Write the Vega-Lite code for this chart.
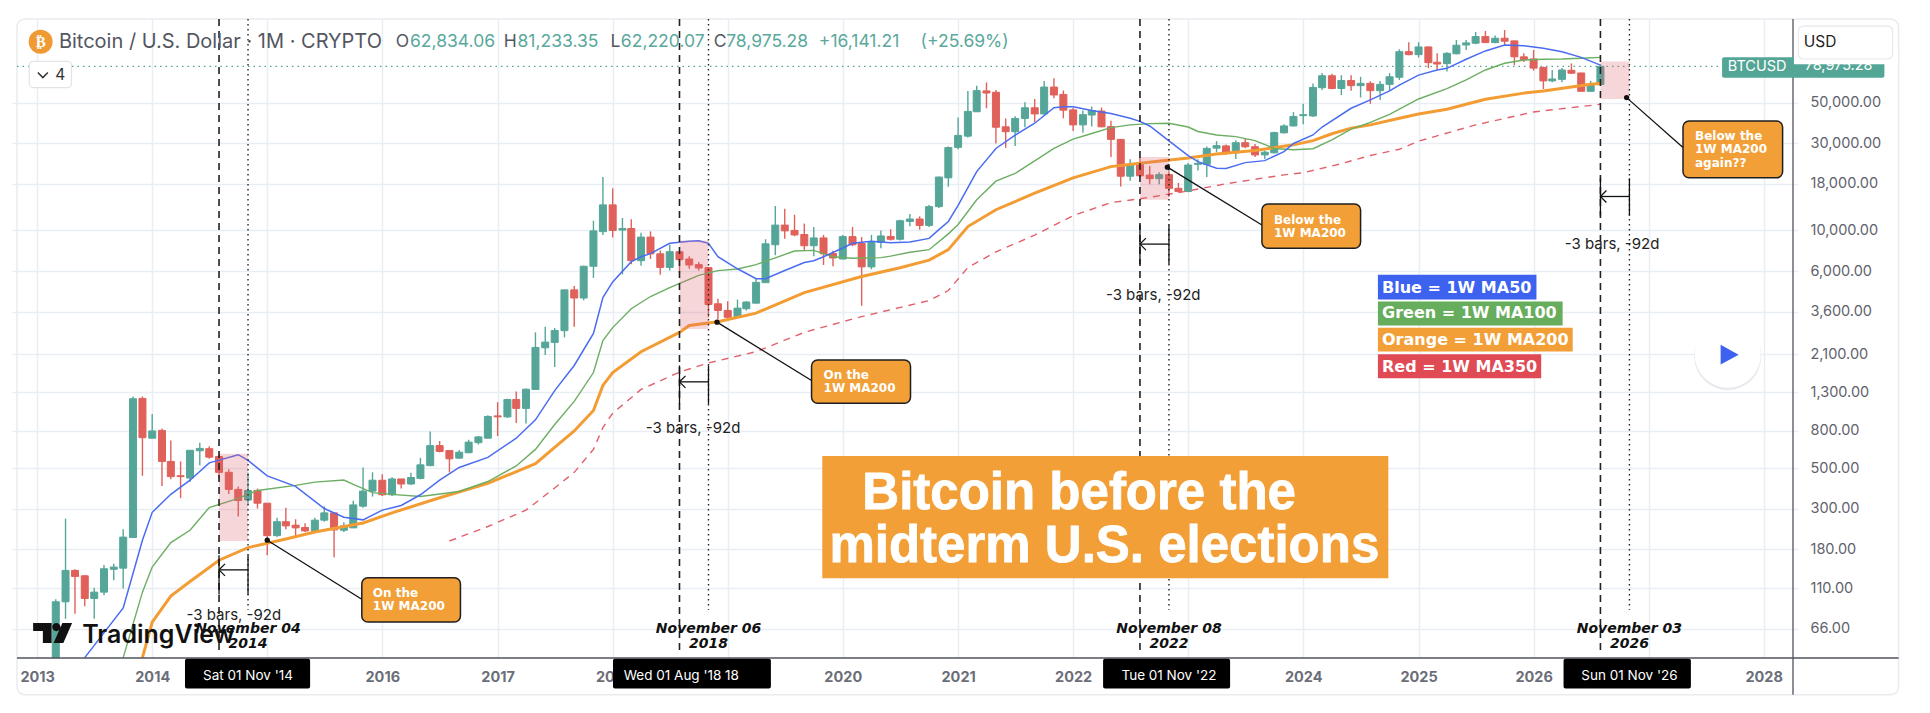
{
"$schema":"https://vega.github.io/schema/vega-lite/v6.json",
"width":1786,"height":639,"autosize":{"type":"none"},
"padding":{"left":12,"top":19,"right":132,"bottom":55},
"background":"white",
"config":{"view":{"stroke":null},"text":{"font":"Inter"}},
"encoding":{
"x":{"field":"d","type":"temporal","scale":{"type":"utc","domain":["2012-10-29","2028-04-03"],"nice":false},
"axis":{"title":null,"values":["2013-01-01","2014-01-01","2015-01-01","2016-01-01","2017-01-01","2018-01-01","2019-01-01","2020-01-01","2021-01-01","2022-01-01","2023-01-01","2024-01-01","2025-01-01","2026-01-01","2027-01-01","2028-01-01"],"format":"%Y","formatType":"utc","labelExpr":"indexof(['2015','2019','2023','2027'],datum.label)>=0?'':datum.label","domain":false,"ticks":false,"grid":true,"gridColor":"#e8eef3","gridWidth":1.5,"labelFont":"Inter","labelFontWeight":"bold","labelFontSize":14.5,"labelColor":"#6b6e78","labelPadding":12,"labelOverlap":false,"labelFlush":false,"labelBound":false}},
"y":{"field":"v","type":"quantitative","scale":{"type":"log","domain":[45.8,143500],"nice":false,"zero":false},
"axis":{"title":null,"orient":"right","values":[66,110,180,300,500,800,1300,2100,3600,6000,10000,18000,30000,50000],"format":",.2f","domain":false,"ticks":false,"grid":true,"gridColor":"#e8eef3","gridWidth":1.5,"labelFont":"Inter","labelFontSize":14.5,"labelColor":"#5f626d","labelPadding":12,"labelOverlap":false,"labelFlush":false,"labelBound":false}}
},
"layer":[
{"data":{"values":[{"d":"2012-10-29","d2":"2029-03-04","v":143500,"v2":28.8}],"format":{"parse":{"d2":"date"}}},
"mark":{"type":"rect","fillOpacity":0,"stroke":"#e9ebef","strokeWidth":1.5,"cornerRadius":8},
"encoding":{"x2":{"field":"d2"},"y2":{"field":"v2"}}},
{"data":{"values":[{"d":"2012-10-29","d2":"2027-08-22","v":78975}],"format":{"parse":{"d2":"date"}}},
"mark":{"type":"rule","stroke":"#53a596","strokeWidth":1.3,"strokeDash":[1.5,4]},
"encoding":{"x2":{"field":"d2"}}},
{"data":{"name":"candles","values":[
{"d":"2013-03-01","o":46,"h":96,"l":46,"c":93},
{"d":"2013-04-01","o":93,"h":265,"l":75,"c":138},
{"d":"2013-05-01","o":138,"h":140,"l":80,"c":128},
{"d":"2013-06-01","o":129,"h":130,"l":88,"c":97},
{"d":"2013-07-01","o":97,"h":111,"l":75,"c":105},
{"d":"2013-08-01","o":105,"h":148,"l":101,"c":141},
{"d":"2013-09-01","o":140,"h":150,"l":122,"c":144},
{"d":"2013-10-01","o":142,"h":232,"l":110,"c":210},
{"d":"2013-11-01","o":209,"h":1235,"l":209,"c":1200},
{"d":"2013-12-01","o":1205,"h":1235,"l":455,"c":735},
{"d":"2014-01-01","o":730,"h":990,"l":730,"c":800},
{"d":"2014-02-01","o":805,"h":825,"l":400,"c":545},
{"d":"2014-03-01","o":545,"h":710,"l":435,"c":450},
{"d":"2014-04-01","o":455,"h":545,"l":343,"c":450},
{"d":"2014-05-01","o":442,"h":630,"l":420,"c":627},
{"d":"2014-06-01","o":623,"h":690,"l":520,"c":642},
{"d":"2014-07-01","o":640,"h":660,"l":563,"c":575},
{"d":"2014-08-01","o":580,"h":597,"l":440,"c":475},
{"d":"2014-09-01","o":475,"h":493,"l":362,"c":383},
{"d":"2014-10-01","o":383,"h":397,"l":272,"c":333},
{"d":"2014-11-01","o":335,"h":473,"l":317,"c":378},
{"d":"2014-12-01","o":378,"h":387,"l":301,"c":322},
{"d":"2015-01-01","o":322,"h":323,"l":167,"c":214},
{"d":"2015-02-01","o":214,"h":268,"l":210,"c":255},
{"d":"2015-03-01","o":255,"h":304,"l":232,"c":242},
{"d":"2015-04-01","o":244,"h":263,"l":212,"c":236},
{"d":"2015-05-01","o":237,"h":250,"l":224,"c":227},
{"d":"2015-06-01","o":227,"h":268,"l":224,"c":260},
{"d":"2015-07-01","o":260,"h":310,"l":255,"c":285},
{"d":"2015-08-01","o":285,"h":285,"l":163,"c":230},
{"d":"2015-09-01","o":229,"h":253,"l":224,"c":242},
{"d":"2015-10-01","o":236,"h":332,"l":236,"c":315},
{"d":"2015-11-01","o":310,"h":505,"l":304,"c":375},
{"d":"2015-12-01","o":375,"h":475,"l":350,"c":430},
{"d":"2016-01-01","o":430,"h":463,"l":352,"c":358},
{"d":"2016-02-01","o":358,"h":447,"l":352,"c":437},
{"d":"2016-03-01","o":437,"h":437,"l":388,"c":410},
{"d":"2016-04-01","o":410,"h":473,"l":405,"c":445},
{"d":"2016-05-01","o":440,"h":570,"l":435,"c":522},
{"d":"2016-06-01","o":517,"h":795,"l":512,"c":665},
{"d":"2016-07-01","o":665,"h":705,"l":610,"c":618},
{"d":"2016-08-01","o":625,"h":625,"l":475,"c":563},
{"d":"2016-09-01","o":568,"h":630,"l":563,"c":612},
{"d":"2016-10-01","o":608,"h":716,"l":604,"c":695},
{"d":"2016-11-01","o":690,"h":750,"l":675,"c":742},
{"d":"2016-12-01","o":730,"h":975,"l":727,"c":960},
{"d":"2017-01-01","o":967,"h":1150,"l":750,"c":955},
{"d":"2017-02-01","o":955,"h":1200,"l":942,"c":1189},
{"d":"2017-03-01","o":1189,"h":1315,"l":885,"c":1063},
{"d":"2017-04-01","o":1063,"h":1365,"l":880,"c":1353},
{"d":"2017-05-01","o":1349,"h":2770,"l":1349,"c":2290},
{"d":"2017-06-01","o":2280,"h":2970,"l":2080,"c":2450},
{"d":"2017-07-01","o":2440,"h":2930,"l":1790,"c":2835},
{"d":"2017-08-01","o":2830,"h":4745,"l":2600,"c":4730},
{"d":"2017-09-01","o":4730,"h":4960,"l":2970,"c":4270},
{"d":"2017-10-01","o":4270,"h":6420,"l":4150,"c":6370},
{"d":"2017-11-01","o":6370,"h":11300,"l":5500,"c":9950},
{"d":"2017-12-01","o":9850,"h":19600,"l":9450,"c":13800},
{"d":"2018-01-01","o":13800,"h":17000,"l":9150,"c":10000},
{"d":"2018-02-01","o":10050,"h":11700,"l":5750,"c":10250},
{"d":"2018-03-01","o":10250,"h":11500,"l":6530,"c":6830},
{"d":"2018-04-01","o":6830,"h":9700,"l":6420,"c":9200},
{"d":"2018-05-01","o":9200,"h":9880,"l":6980,"c":7450},
{"d":"2018-06-01","o":7450,"h":7780,"l":5720,"c":6280},
{"d":"2018-07-01","o":6280,"h":8350,"l":6030,"c":7650},
{"d":"2018-08-01","o":7650,"h":7720,"l":5850,"c":6920},
{"d":"2018-09-01","o":6980,"h":7220,"l":6170,"c":6470},
{"d":"2018-10-01","o":6500,"h":6720,"l":6030,"c":6230},
{"d":"2018-11-01","o":6260,"h":6320,"l":3350,"c":3930},
{"d":"2018-12-01","o":3970,"h":4230,"l":3254,"c":3650},
{"d":"2019-01-01","o":3650,"h":4100,"l":3254,"c":3350},
{"d":"2019-02-01","o":3370,"h":4185,"l":3350,"c":3760},
{"d":"2019-03-01","o":3730,"h":4100,"l":3650,"c":4060},
{"d":"2019-04-01","o":4000,"h":5500,"l":4000,"c":5200},
{"d":"2019-05-01","o":5180,"h":8950,"l":5180,"c":8450},
{"d":"2019-06-01","o":8350,"h":13600,"l":7320,"c":10700},
{"d":"2019-07-01","o":10700,"h":13150,"l":9000,"c":9950},
{"d":"2019-08-01","o":10000,"h":12200,"l":9300,"c":9450},
{"d":"2019-09-01","o":9500,"h":10900,"l":7750,"c":8250},
{"d":"2019-10-01","o":8250,"h":10450,"l":7220,"c":9100},
{"d":"2019-11-01","o":9100,"h":9450,"l":6470,"c":7450},
{"d":"2019-12-01","o":7480,"h":7750,"l":6370,"c":7070},
{"d":"2020-01-01","o":6980,"h":9450,"l":6950,"c":9250},
{"d":"2020-02-01","o":9250,"h":10450,"l":8200,"c":8350},
{"d":"2020-03-01","o":8480,"h":9200,"l":3870,"c":6320},
{"d":"2020-04-01","o":6320,"h":9450,"l":6130,"c":8600},
{"d":"2020-05-01","o":8600,"h":10000,"l":8000,"c":9330},
{"d":"2020-06-01","o":9270,"h":10150,"l":8800,"c":8950},
{"d":"2020-07-01","o":8950,"h":11450,"l":8800,"c":11300},
{"d":"2020-08-01","o":11200,"h":12300,"l":10550,"c":11550},
{"d":"2020-09-01","o":11550,"h":11950,"l":10100,"c":10650},
{"d":"2020-10-01","o":10650,"h":13800,"l":10450,"c":13500},
{"d":"2020-11-01","o":13500,"h":19650,"l":13250,"c":19600},
{"d":"2020-12-01","o":19400,"h":28800,"l":17350,"c":28400},
{"d":"2021-01-01","o":28500,"h":41500,"l":27800,"c":33100},
{"d":"2021-02-01","o":32800,"h":58000,"l":32200,"c":44800},
{"d":"2021-03-01","o":44600,"h":61900,"l":44600,"c":58200},
{"d":"2021-04-01","o":58000,"h":64500,"l":46600,"c":56500},
{"d":"2021-05-01","o":57000,"h":58740,"l":29900,"c":36700},
{"d":"2021-06-01","o":36900,"h":41000,"l":28300,"c":34700},
{"d":"2021-07-01","o":34700,"h":42200,"l":29000,"c":41000},
{"d":"2021-08-01","o":41000,"h":50300,"l":36700,"c":46900},
{"d":"2021-09-01","o":46900,"h":52400,"l":39200,"c":43400},
{"d":"2021-10-01","o":43400,"h":65800,"l":43000,"c":60900},
{"d":"2021-11-01","o":60900,"h":68000,"l":52800,"c":55100},
{"d":"2021-12-01","o":55500,"h":58300,"l":41100,"c":45500},
{"d":"2022-01-01","o":45670,"h":46800,"l":35000,"c":37800},
{"d":"2022-02-01","o":37800,"h":45300,"l":34200,"c":43000},
{"d":"2022-03-01","o":42800,"h":47700,"l":37000,"c":45300},
{"d":"2022-04-01","o":45000,"h":47000,"l":36700,"c":36900},
{"d":"2022-05-01","o":37000,"h":39800,"l":25200,"c":31500},
{"d":"2022-06-01","o":31500,"h":31600,"l":17400,"c":19800},
{"d":"2022-07-01","o":19800,"h":24500,"l":18700,"c":23000},
{"d":"2022-08-01","o":23000,"h":24900,"l":19400,"c":19900},
{"d":"2022-09-01","o":20100,"h":22500,"l":17900,"c":19200},
{"d":"2022-10-01","o":19200,"h":20800,"l":17900,"c":20200},
{"d":"2022-11-01","o":20200,"h":21100,"l":15300,"c":17000},
{"d":"2022-12-01","o":17000,"h":18200,"l":16150,"c":16350},
{"d":"2023-01-01","o":16350,"h":23400,"l":16200,"c":22800},
{"d":"2023-02-01","o":23000,"h":24500,"l":21300,"c":23300},
{"d":"2023-03-01","o":23000,"h":28800,"l":19600,"c":28100},
{"d":"2023-04-01","o":28200,"h":30800,"l":26800,"c":29100},
{"d":"2023-05-01","o":29000,"h":29500,"l":25900,"c":26600},
{"d":"2023-06-01","o":26600,"h":31100,"l":24600,"c":30200},
{"d":"2023-07-01","o":30200,"h":31600,"l":28200,"c":28700},
{"d":"2023-08-01","o":28700,"h":29700,"l":25200,"c":25900},
{"d":"2023-09-01","o":25900,"h":27300,"l":24600,"c":26800},
{"d":"2023-10-01","o":26600,"h":34700,"l":26400,"c":34300},
{"d":"2023-11-01","o":34200,"h":38100,"l":33900,"c":37300},
{"d":"2023-12-01","o":37300,"h":44400,"l":37000,"c":42000},
{"d":"2024-01-01","o":42500,"h":49300,"l":38100,"c":43000},
{"d":"2024-02-01","o":42300,"h":63600,"l":41700,"c":60600},
{"d":"2024-03-01","o":60400,"h":72600,"l":58700,"c":70200},
{"d":"2024-04-01","o":70200,"h":71900,"l":59200,"c":59800},
{"d":"2024-05-01","o":59800,"h":70700,"l":55000,"c":66100},
{"d":"2024-06-01","o":66100,"h":70700,"l":58200,"c":62000},
{"d":"2024-07-01","o":62000,"h":69300,"l":53400,"c":63800},
{"d":"2024-08-01","o":63800,"h":65500,"l":49300,"c":58200},
{"d":"2024-09-01","o":58200,"h":65800,"l":51800,"c":63000},
{"d":"2024-10-01","o":63000,"h":72600,"l":58200,"c":69300},
{"d":"2024-11-01","o":68900,"h":98000,"l":66600,"c":95100},
{"d":"2024-12-01","o":95100,"h":107100,"l":90900,"c":91600},
{"d":"2025-01-01","o":91600,"h":107100,"l":88300,"c":100900},
{"d":"2025-02-01","o":100900,"h":101300,"l":77300,"c":82800},
{"d":"2025-03-01","o":83200,"h":93100,"l":75500,"c":81400},
{"d":"2025-04-01","o":81800,"h":94300,"l":74100,"c":93100},
{"d":"2025-05-01","o":92600,"h":110200,"l":91900,"c":103100},
{"d":"2025-06-01","o":103500,"h":110200,"l":97150,"c":106200},
{"d":"2025-07-01","o":105800,"h":121900,"l":104400,"c":115000},
{"d":"2025-08-01","o":115000,"h":123400,"l":106200,"c":106600},
{"d":"2025-09-01","o":106600,"h":116400,"l":105800,"c":112600},
{"d":"2025-10-01","o":112600,"h":124950,"l":102600,"c":108500},
{"d":"2025-11-01","o":108900,"h":109300,"l":80300,"c":89100},
{"d":"2025-12-01","o":89100,"h":93100,"l":83600,"c":86000},
{"d":"2026-01-01","o":86800,"h":97150,"l":74800,"c":77300},
{"d":"2026-02-01","o":78000,"h":78700,"l":59400,"c":65800},
{"d":"2026-03-01","o":65800,"h":75500,"l":64700,"c":67400},
{"d":"2026-04-01","o":67100,"h":77300,"l":64700,"c":75500},
{"d":"2026-05-01","o":75200,"h":82000,"l":71900,"c":72500},
{"d":"2026-06-01","o":72700,"h":73000,"l":57700,"c":57700},
{"d":"2026-07-01","o":57700,"h":65800,"l":57700,"c":62700},
{"d":"2026-08-01","o":62834,"h":81233,"l":62220,"c":78975}
]},
"mark":{"type":"rule","strokeWidth":1.4},
"encoding":{"y":{"field":"l","type":"quantitative","axis":{"title":null}},"y2":{"field":"h"},
"color":{"condition":{"test":"datum.c>=datum.o","value":"#55a699"},"value":"#e0605a"}}},
{"data":{"name":"candles"},
"mark":{"type":"bar","width":7,"strokeWidth":1},
"encoding":{"y":{"field":"o","type":"quantitative","axis":{"title":null}},"y2":{"field":"c"},
"color":{"condition":{"test":"datum.c>=datum.o","value":"#55a699"},"value":"#e0605a"},
"stroke":{"condition":{"test":"datum.c>=datum.o","value":"#55a699"},"value":"#e0605a"}}},
{"data":{"values":[
{"d":"2016-08-01","v":200},{"d":"2016-12-01","v":240},{"d":"2017-04-01","v":295},{"d":"2017-07-01","v":390},{"d":"2017-09-01","v":475},{"d":"2017-11-01","v":634},{"d":"2017-12-01","v":835},{"d":"2018-01-01","v":1000},{"d":"2018-04-01","v":1349},{"d":"2018-08-01","v":1680},{"d":"2018-11-01","v":1885},{"d":"2019-04-01","v":2170},{"d":"2019-09-01","v":2770},{"d":"2020-03-01","v":3380},{"d":"2020-10-01","v":4135},{"d":"2020-12-01","v":4690},{"d":"2021-02-01","v":6270},{"d":"2021-05-01","v":7640},{"d":"2021-09-01","v":9430},{"d":"2022-01-01","v":12050},{"d":"2022-05-01","v":14200},{"d":"2022-08-01","v":14900},{"d":"2022-12-01","v":16100},{"d":"2023-05-01","v":18000},{"d":"2023-11-01","v":20150},{"d":"2024-01-01","v":20700},{"d":"2024-05-01","v":23200},{"d":"2024-08-01","v":25700},{"d":"2024-11-01","v":27800},{"d":"2025-01-01","v":30800},{"d":"2025-07-01","v":37800},{"d":"2026-01-01","v":44500},{"d":"2026-08-01","v":49000}]},
"mark":{"type":"line","stroke":"#e2606c","strokeWidth":1.4,"strokeDash":[7,6]}},
{"data":{"values":[
{"d":"2013-12-01","v":46},{"d":"2014-01-01","v":72},{"d":"2014-03-01","v":100},{"d":"2014-05-01","v":120},{"d":"2014-08-01","v":157},{"d":"2014-11-01","v":184},{"d":"2015-03-01","v":205},{"d":"2015-06-01","v":224},{"d":"2015-11-01","v":251},{"d":"2016-02-01","v":285},{"d":"2016-07-01","v":345},{"d":"2016-12-01","v":413},{"d":"2017-05-01","v":530},{"d":"2017-07-01","v":650},{"d":"2017-09-01","v":800},{"d":"2017-11-01","v":1035},{"d":"2017-12-01","v":1420},{"d":"2018-01-01","v":1670},{"d":"2018-04-01","v":2170},{"d":"2018-08-01","v":2770},{"d":"2018-09-01","v":3020},{"d":"2018-12-01","v":3170},{"d":"2019-04-01","v":3530},{"d":"2019-09-01","v":4570},{"d":"2020-03-01","v":5600},{"d":"2020-07-01","v":6250},{"d":"2020-10-01","v":6880},{"d":"2020-12-01","v":7850},{"d":"2021-02-01","v":10500},{"d":"2021-05-01","v":12980},{"d":"2021-09-01","v":16000},{"d":"2022-01-01","v":19400},{"d":"2022-05-01","v":22350},{"d":"2022-08-01","v":23300},{"d":"2023-01-01","v":24900},{"d":"2023-04-01","v":26200},{"d":"2023-08-01","v":27400},{"d":"2023-12-01","v":29400},{"d":"2024-02-01","v":31000},{"d":"2024-04-01","v":33800},{"d":"2024-06-01","v":36300},{"d":"2024-08-01","v":37800},{"d":"2024-11-01","v":41100},{"d":"2025-01-01","v":43400},{"d":"2025-04-01","v":46000},{"d":"2025-08-01","v":52200},{"d":"2025-12-01","v":56400},{"d":"2026-02-01","v":58000},{"d":"2026-05-01","v":61000},{"d":"2026-07-01","v":63100},{"d":"2026-08-01","v":63700}]},
"mark":{"type":"line","stroke":"#f39c33","strokeWidth":3}},
{"data":{"values":[
{"d":"2013-10-01","v":46},{"d":"2013-12-01","v":105},{"d":"2014-01-01","v":144},{"d":"2014-03-01","v":196},{"d":"2014-05-01","v":229},{"d":"2014-07-01","v":305},{"d":"2014-10-01","v":342},{"d":"2014-12-01","v":378},{"d":"2015-04-01","v":403},{"d":"2015-06-01","v":420},{"d":"2015-09-01","v":431},{"d":"2015-10-01","v":408},{"d":"2015-12-01","v":368},{"d":"2016-02-01","v":360},{"d":"2016-05-01","v":350},{"d":"2016-09-01","v":373},{"d":"2016-12-01","v":423},{"d":"2017-03-01","v":515},{"d":"2017-05-01","v":634},{"d":"2017-07-01","v":868},{"d":"2017-09-01","v":1160},{"d":"2017-11-01","v":1670},{"d":"2017-12-01","v":2495},{"d":"2018-01-01","v":2940},{"d":"2018-03-01","v":3730},{"d":"2018-05-01","v":4350},{"d":"2018-07-01","v":4860},{"d":"2018-10-01","v":5680},{"d":"2018-12-01","v":6030},{"d":"2019-02-01","v":6150},{"d":"2019-04-01","v":6500},{"d":"2019-06-01","v":7080},{"d":"2019-08-01","v":7720},{"d":"2019-10-01","v":7780},{"d":"2019-12-01","v":7180},{"d":"2020-02-01","v":7050},{"d":"2020-05-01","v":7100},{"d":"2020-06-01","v":7240},{"d":"2020-08-01","v":7600},{"d":"2020-10-01","v":7850},{"d":"2020-12-01","v":9580},{"d":"2021-01-01","v":10780},{"d":"2021-03-01","v":14730},{"d":"2021-05-01","v":18600},{"d":"2021-07-01","v":20500},{"d":"2021-09-01","v":24000},{"d":"2021-11-01","v":28100},{"d":"2022-01-01","v":31600},{"d":"2022-03-01","v":33900},{"d":"2022-05-01","v":36500},{"d":"2022-07-01","v":37800},{"d":"2022-09-01","v":38400},{"d":"2022-11-01","v":38600},{"d":"2023-01-01","v":36800},{"d":"2023-02-01","v":34800},{"d":"2023-04-01","v":33300},{"d":"2023-06-01","v":32600},{"d":"2023-08-01","v":31000},{"d":"2023-10-01","v":28100},{"d":"2023-12-01","v":27620},{"d":"2024-02-01","v":28000},{"d":"2024-04-01","v":31320},{"d":"2024-06-01","v":35800},{"d":"2024-08-01","v":39000},{"d":"2024-10-01","v":43200},{"d":"2024-11-01","v":46100},{"d":"2025-01-01","v":52400},{"d":"2025-04-01","v":59700},{"d":"2025-06-01","v":66600},{"d":"2025-08-01","v":75500},{"d":"2025-10-01","v":82200},{"d":"2025-12-01","v":85670},{"d":"2026-02-01","v":86400},{"d":"2026-04-01","v":86700},{"d":"2026-06-01","v":87500},{"d":"2026-08-01","v":88500}]},
"mark":{"type":"line","stroke":"#6cae62","strokeWidth":1.4}},
{"data":{"values":[
{"d":"2013-06-01","v":46},{"d":"2013-10-01","v":86},{"d":"2013-12-01","v":202},{"d":"2014-01-01","v":287},{"d":"2014-03-01","v":360},{"d":"2014-05-01","v":430},{"d":"2014-07-01","v":535},{"d":"2014-10-01","v":593},{"d":"2014-11-01","v":552},{"d":"2015-01-01","v":454},{"d":"2015-04-01","v":398},{"d":"2015-07-01","v":301},{"d":"2015-09-01","v":270},{"d":"2015-11-01","v":261},{"d":"2016-01-01","v":295},{"d":"2016-03-01","v":313},{"d":"2016-05-01","v":358},{"d":"2016-07-01","v":430},{"d":"2016-09-01","v":505},{"d":"2016-12-01","v":573},{"d":"2017-03-01","v":730},{"d":"2017-05-01","v":920},{"d":"2017-07-01","v":1330},{"d":"2017-09-01","v":1825},{"d":"2017-11-01","v":2730},{"d":"2017-12-01","v":4290},{"d":"2018-01-01","v":5230},{"d":"2018-03-01","v":6750},{"d":"2018-04-01","v":7180},{"d":"2018-05-01","v":7470},{"d":"2018-07-01","v":8500},{"d":"2018-09-01","v":8730},{"d":"2018-10-01","v":8790},{"d":"2018-11-01","v":8500},{"d":"2018-12-01","v":7180},{"d":"2019-02-01","v":6170},{"d":"2019-04-01","v":5450},{"d":"2019-05-01","v":5450},{"d":"2019-07-01","v":6040},{"d":"2019-09-01","v":6680},{"d":"2019-10-01","v":6830},{"d":"2019-11-01","v":7180},{"d":"2020-01-01","v":8020},{"d":"2020-02-01","v":8500},{"d":"2020-04-01","v":8720},{"d":"2020-06-01","v":8570},{"d":"2020-08-01","v":8650},{"d":"2020-10-01","v":9050},{"d":"2020-11-01","v":10100},{"d":"2020-12-01","v":11200},{"d":"2021-01-01","v":13700},{"d":"2021-03-01","v":21000},{"d":"2021-05-01","v":28100},{"d":"2021-07-01","v":33200},{"d":"2021-09-01","v":38600},{"d":"2021-11-01","v":46900},{"d":"2021-12-01","v":47500},{"d":"2022-01-01","v":47500},{"d":"2022-03-01","v":45300},{"d":"2022-05-01","v":43600},{"d":"2022-07-01","v":41100},{"d":"2022-08-01","v":39500},{"d":"2022-09-01","v":37300},{"d":"2022-11-01","v":30900},{"d":"2023-01-01","v":25700},{"d":"2023-02-01","v":23800},{"d":"2023-04-01","v":21900},{"d":"2023-05-01","v":21800},{"d":"2023-07-01","v":23500},{"d":"2023-09-01","v":24100},{"d":"2023-11-01","v":27000},{"d":"2023-12-01","v":29900},{"d":"2024-02-01","v":33300},{"d":"2024-03-01","v":36800},{"d":"2024-06-01","v":46600},{"d":"2024-08-01","v":51800},{"d":"2024-10-01","v":58000},{"d":"2024-11-01","v":62400},{"d":"2025-01-01","v":70800},{"d":"2025-03-01","v":75500},{"d":"2025-04-01","v":77100},{"d":"2025-06-01","v":86400},{"d":"2025-08-01","v":96000},{"d":"2025-10-01","v":103400},{"d":"2025-12-01","v":102400},{"d":"2026-02-01","v":99200},{"d":"2026-04-01","v":95100},{"d":"2026-06-01","v":88500},{"d":"2026-08-01","v":80300}]},
"mark":{"type":"line","stroke":"#4a6cf0","strokeWidth":1.5}},
{"data":{"values":[
{"d":"2014-08-01","d2":"2014-11-01","v":600,"v2":200},
{"d":"2018-08-01","d2":"2018-11-01","v":8800,"v2":2890},
{"d":"2022-08-01","d2":"2022-11-01","v":25200,"v2":14730},
{"d":"2026-08-01","d2":"2026-11-01","v":84100,"v2":52400}],"format":{"parse":{"d2":"date"}}},
"mark":{"type":"rect","fill":"#e0606e","fillOpacity":0.26},
"encoding":{"x2":{"field":"d2"},"y2":{"field":"v2"}}},
{"data":{"values":[{"d":"2014-08-01","v":143500,"v2":49},{"d":"2018-08-01","v":143500,"v2":49},{"d":"2022-08-01","v":143500,"v2":49},{"d":"2026-08-01","v":143500,"v2":49}]},
"mark":{"type":"rule","stroke":"#222","strokeWidth":1.6,"strokeDash":[7,5]},
"encoding":{"y2":{"field":"v2"}}},
{"data":{"values":[{"d":"2014-11-01","v":143500,"v2":84},{"d":"2018-11-01","v":143500,"v2":84},{"d":"2022-11-01","v":143500,"v2":84},{"d":"2026-11-01","v":143500,"v2":84}]},
"mark":{"type":"rule","stroke":"#222","strokeWidth":1.4,"strokeDash":[1.5,3.5]},
"encoding":{"y2":{"field":"v2"}}},
{"data":{"values":[
{"d":"2014-08-01","v":167,"v2":102},{"d":"2014-11-01","v":167,"v2":102},
{"d":"2018-08-01","v":1825,"v2":1125},{"d":"2018-11-01","v":1825,"v2":1125},
{"d":"2022-08-01","v":10750,"v2":6530},{"d":"2022-11-01","v":10750,"v2":6530},
{"d":"2026-08-01","v":19300,"v2":12050},{"d":"2026-11-01","v":19300,"v2":12050}]},
"mark":{"type":"rule","stroke":"#111","strokeWidth":1.3},
"encoding":{"y2":{"field":"v2"}}},
{"data":{"values":[
{"d":"2014-08-01","d2":"2014-11-01","v":139},
{"d":"2018-08-01","d2":"2018-11-01","v":1485},
{"d":"2022-08-01","d2":"2022-11-01","v":8420},
{"d":"2026-08-01","d2":"2026-11-01","v":15340}],"format":{"parse":{"d2":"date"}}},
"mark":{"type":"rule","stroke":"#111","strokeWidth":1.3},
"encoding":{"x2":{"field":"d2"}}},
{"data":{"values":[{"d":"2014-08-01","v":139},{"d":"2018-08-01","v":1485},{"d":"2022-08-01","v":8420},{"d":"2026-08-01","v":15340}]},
"mark":{"type":"point","shape":"M1,-1L0,0L1,1","size":144,"filled":false,"stroke":"#111","strokeWidth":1.3,"opacity":1}},
{"data":{"values":[
{"d":"2014-09-17","v":79,"t":"-3 bars, -92d"},
{"d":"2018-09-13","v":830,"t":"-3 bars, -92d"},
{"d":"2022-09-12","v":4430,"t":"-3 bars, -92d"},
{"d":"2026-09-07","v":8430,"t":"-3 bars, -92d"}]},
"mark":{"type":"text","fontSize":15,"color":"#222","baseline":"middle","align":"center"},
"encoding":{"text":{"field":"t"}}},
{"data":{"values":[
{"d":"2015-01-01","d2":"2015-10-28","v":202,"v2":96},
{"d":"2018-11-28","d2":"2019-09-24","v":3150,"v2":1510},
{"d":"2022-10-27","d2":"2023-08-23","v":22200,"v2":10720},
{"d":"2026-10-23","d2":"2027-04-20","v":53300,"v2":28400}],"format":{"parse":{"d2":"date"}}},
"mark":{"type":"rule","stroke":"#111","strokeWidth":1.3},
"encoding":{"x2":{"field":"d2"},"y2":{"field":"v2"}}},
{"data":{"values":[{"d":"2015-01-01","v":202},{"d":"2018-11-28","v":3150},{"d":"2022-10-27","v":22200},{"d":"2026-10-23","v":53300}]},
"mark":{"type":"point","shape":"circle","size":28,"filled":true,"color":"#111","opacity":1}},
{"data":{"values":[
{"d":"2015-10-28","d2":"2016-09-05","v":126,"v2":72},
{"d":"2019-09-24","d2":"2020-08-03","v":1955,"v2":1134},
{"d":"2023-08-23","d2":"2024-07-01","v":13950,"v2":8000},
{"d":"2027-04-20","d2":"2028-03-01","v":39700,"v2":19400}],"format":{"parse":{"d2":"date"}}},
"mark":{"type":"rect","fill":"#f29f37","stroke":"#1f1f1f","strokeWidth":1.5,"cornerRadius":6},
"encoding":{"x2":{"field":"d2"},"y2":{"field":"v2"}}},
{"data":{"values":[
{"d":"2015-12-02","v":104,"t":"On the"},{"d":"2015-12-02","v":88,"t":"1W MA200"},
{"d":"2019-11-01","v":1620,"t":"On the"},{"d":"2019-11-01","v":1372,"t":"1W MA200"},
{"d":"2023-09-30","v":11370,"t":"Below the"},{"d":"2023-09-30","v":9730,"t":"1W MA200"},
{"d":"2027-05-28","v":33000,"t":"Below the"},{"d":"2027-05-28","v":27800,"t":"1W MA200"},{"d":"2027-05-28","v":23500,"t":"again??"}]},
"mark":{"type":"text","font":"DejaVu Sans","fontSize":12,"fontWeight":"bold","color":"white","align":"left","baseline":"middle"},
"encoding":{"text":{"field":"t"}}},
{"data":{"values":[{"d":"2019-10-28","d2":"2024-09-27","v":583,"v2":125}],"format":{"parse":{"d2":"date"}}},
"mark":{"type":"rect","fill":"#f29f37"},
"encoding":{"x2":{"field":"d2"},"y2":{"field":"v2"}}},
{"data":{"values":[{"d":"2022-01-20","v":298,"t":"Bitcoin before the"},{"d":"2022-04-10","v":153,"t":"midterm U.S. elections"}]},
"mark":{"type":"text","font":"Liberation Sans","fontSize":51,"fontWeight":"bold","color":"white","stroke":"white","strokeWidth":0.8,"align":"center","baseline":"alphabetic"},
"encoding":{"text":{"field":"t"}}},
{"data":{"values":[
{"s":"Blue","d":"2024-08-25","d2":"2026-01-10","v":5720,"v2":4185},
{"s":"Green","d":"2024-08-25","d2":"2026-04-03","v":4080,"v2":3020},
{"s":"Orange","d":"2024-08-25","d2":"2026-05-05","v":2935,"v2":2175},
{"s":"Red","d":"2024-08-25","d2":"2026-01-25","v":2100,"v2":1555}],"format":{"parse":{"d2":"date"}}},
"mark":{"type":"rect"},
"encoding":{"x2":{"field":"d2"},"y2":{"field":"v2"},
"fill":{"field":"s","type":"nominal","legend":null,"scale":{"domain":["Blue","Green","Orange","Red"],"range":["#3d62f0","#66ad5d","#f29f37","#e04a55"]}}}},
{"data":{"values":[
{"d":"2024-09-07","v":4860,"t":"Blue = 1W MA50"},
{"d":"2024-09-07","v":3520,"t":"Green = 1W MA100"},
{"d":"2024-09-07","v":2530,"t":"Orange = 1W MA200"},
{"d":"2024-09-07","v":1800,"t":"Red = 1W MA350"}]},
"mark":{"type":"text","font":"DejaVu Sans","fontSize":16,"fontWeight":"bold","color":"white","align":"left","baseline":"middle"},
"encoding":{"text":{"field":"t"}}},
{"data":{"values":[
{"d":"2014-11-01","v":66.4,"t":"November 04"},{"d":"2014-11-01","v":54.4,"t":"2014"},
{"d":"2018-11-01","v":66.4,"t":"November 06"},{"d":"2018-11-01","v":54.4,"t":"2018"},
{"d":"2022-11-01","v":66.4,"t":"November 08"},{"d":"2022-11-01","v":54.4,"t":"2022"},
{"d":"2026-11-01","v":66.4,"t":"November 03"},{"d":"2026-11-01","v":54.4,"t":"2026"}]},
"mark":{"type":"text","font":"DejaVu Sans","fontSize":14,"fontWeight":"bold","fontStyle":"italic","color":"#111","align":"center","baseline":"middle"},
"encoding":{"text":{"field":"t"}}},
{"data":{"values":[{"d":"2013-02-19","v":62.8}]},
"mark":{"type":"point","shape":"M-1,-.51H-.05V.51H-.5V-.1H-1ZM.5,-.51H1L.55,.51H.05ZM-.02,-.3a.21,.21 0 1 0 .42,0a.21,.21 0 1 0 -.42,0Z","size":1521,"filled":true,"fill":"#111","stroke":null,"opacity":1}},
{"data":{"values":[{"d":"2013-05-24","v":55.4,"t":"TradingView"}]},
"mark":{"type":"text","font":"Inter","fontSize":25,"fontWeight":600,"color":"#111","align":"left","baseline":"alphabetic"},
"encoding":{"text":{"field":"t"}}},
{"data":{"values":[{"d":"2012-10-29","d2":"2029-03-04","v":45.8}],"format":{"parse":{"d2":"date"}}},
"mark":{"type":"rule","stroke":"#50535e","strokeWidth":1.3},
"encoding":{"x2":{"field":"d2"}}},
{"data":{"values":[{"d":"2028-04-03","v":143500,"v2":28.8}]},
"mark":{"type":"rule","stroke":"#50535e","strokeWidth":1.3},
"encoding":{"y2":{"field":"v2"}}},
{"data":{"values":[
{"d":"2014-04-15","d2":"2015-05-17","v":45.3,"v2":31.2},
{"d":"2018-01-02","d2":"2019-05-18","v":45.3,"v2":31.2},
{"d":"2022-04-06","d2":"2023-05-14","v":45.3,"v2":31.2},
{"d":"2026-04-06","d2":"2027-05-15","v":45.3,"v2":31.2}],"format":{"parse":{"d2":"date"}}},
"mark":{"type":"rect","fill":"#000","cornerRadius":2},
"encoding":{"x2":{"field":"d2"},"y2":{"field":"v2"}}},
{"data":{"values":[
{"d":"2014-11-01","v":36.5,"t":"Sat 01 Nov '14"},
{"d":"2022-11-01","v":36.5,"t":"Tue 01 Nov '22"},
{"d":"2026-11-01","v":36.5,"t":"Sun 01 Nov '26"}]},
"mark":{"type":"text","fontSize":13.5,"color":"white","align":"center","baseline":"middle"},
"encoding":{"text":{"field":"t"}}},
{"data":{"values":[{"d":"2018-02-05","v":36.5,"t":"Wed 01 Aug '18  18"}]},
"mark":{"type":"text","fontSize":13.5,"color":"white","align":"left","baseline":"middle"},
"encoding":{"text":{"field":"t"}}},
{"data":{"values":[{"d":"2027-08-22","d2":"2029-01-18","v":88600,"v2":68500}],"format":{"parse":{"d2":"date"}}},
"mark":{"type":"rect","fill":"#53a596","cornerRadius":2},
"encoding":{"x2":{"field":"d2"},"y2":{"field":"v2"}}},
{"data":{"values":[{"d":"2027-09-09","v":77900,"t":"BTCUSD"},{"d":"2028-05-10","v":78900,"t":"78,975.28"}]},
"mark":{"type":"text","fontSize":14.5,"color":"white","align":"left","baseline":"middle"},
"encoding":{"text":{"field":"t"}}},
{"data":{"values":[{"d":"2028-04-06","d2":"2029-03-01","v":97150,"v2":81200}],"format":{"parse":{"d2":"date"}}},
"mark":{"type":"rect","fill":"white"},
"encoding":{"x2":{"field":"d2"},"y2":{"field":"v2"}}},
{"data":{"values":[{"d":"2028-04-20","d2":"2029-02-13","v":131300,"v2":86700}],"format":{"parse":{"d2":"date"}}},
"mark":{"type":"rect","fill":"white","stroke":"#e6e8ec","strokeWidth":1.2,"cornerRadius":5},
"encoding":{"x2":{"field":"d2"},"y2":{"field":"v2"}}},
{"data":{"values":[{"d":"2028-05-07","v":107000,"t":"USD"}]},
"mark":{"type":"text","fontSize":15.5,"color":"#222","align":"left","baseline":"middle"},
"encoding":{"text":{"field":"t"}}},
{"data":{"values":[{"d":"2012-12-07","d2":"2013-04-20","v":84200,"v2":60500}],"format":{"parse":{"d2":"date"}}},
"mark":{"type":"rect","fill":"white","stroke":"#e0e3e8","strokeWidth":1.2,"cornerRadius":4},
"encoding":{"x2":{"field":"d2"},"y2":{"field":"v2"}}},
{"data":{"values":[{"d":"2013-01-19","v":70800}]},
"mark":{"type":"point","shape":"M-1,-.5L0,.5L1,-.5","size":100,"filled":false,"stroke":"#333","strokeWidth":1.5,"opacity":1}},
{"data":{"values":[{"d":"2013-03-15","v":70800,"t":"4"}]},
"mark":{"type":"text","fontSize":15.5,"color":"#333","align":"center","baseline":"middle"},
"encoding":{"text":{"field":"t"}}},
{"data":{"values":[{"d":"2013-01-12","v":107700}]},
"mark":{"type":"point","shape":"circle","size":576,"filled":true,"color":"#f09a33","opacity":1}},
{"data":{"values":[{"d":"2013-01-12","v":107700,"t":"₿"}]},
"mark":{"type":"text","font":"DejaVu Sans","fontSize":15,"fontWeight":"bold","color":"white","align":"center","baseline":"middle"},
"encoding":{"text":{"field":"t"}}},
{"data":{"values":[{"d":"2013-03-11","v":107700,"t":"Bitcoin / U.S. Dollar · 1M · CRYPTO"}]},
"mark":{"type":"text","fontSize":20,"color":"#53565f","align":"left","baseline":"middle"},
"encoding":{"text":{"field":"t"}}},
{"data":{"values":[{"d":"2016-02-13","v":107700,"t":"O"},{"d":"2017-01-20","v":107700,"t":"H"},{"d":"2017-12-25","v":107700,"t":"L"},{"d":"2018-11-18","v":107700,"t":"C"}]},
"mark":{"type":"text","fontSize":17.5,"color":"#53565f","align":"left","baseline":"middle"},
"encoding":{"text":{"field":"t"}}},
{"data":{"values":[{"d":"2016-03-29","v":107700,"t":"62,834.06"},{"d":"2017-03-05","v":107700,"t":"81,233.35"},{"d":"2018-01-27","v":107700,"t":"62,220.07"},{"d":"2018-12-27","v":107700,"t":"78,975.28"},{"d":"2019-10-17","v":107700,"t":"+16,141.21"},{"d":"2020-09-04","v":107700,"t":"(+25.69%)"}]},
"mark":{"type":"text","fontSize":17.5,"color":"#5aa89c","align":"left","baseline":"middle"},
"encoding":{"text":{"field":"t"}}},
{"data":{"values":[{"d":"2027-09-09","v":2040}]},
"mark":{"type":"point","shape":"circle","size":4500,"filled":true,"color":"#dfe1e6","opacity":0.7}},
{"data":{"values":[{"d":"2027-09-09","v":2090}]},
"mark":{"type":"point","shape":"circle","size":4356,"filled":true,"color":"white","opacity":1}},
{"data":{"values":[{"d":"2027-09-15","v":2090}]},
"mark":{"type":"point","shape":"M-1,-1.1L1,0L-1,1.1Z","size":324,"filled":true,"color":"#3d62f0","opacity":1}}
]
}
